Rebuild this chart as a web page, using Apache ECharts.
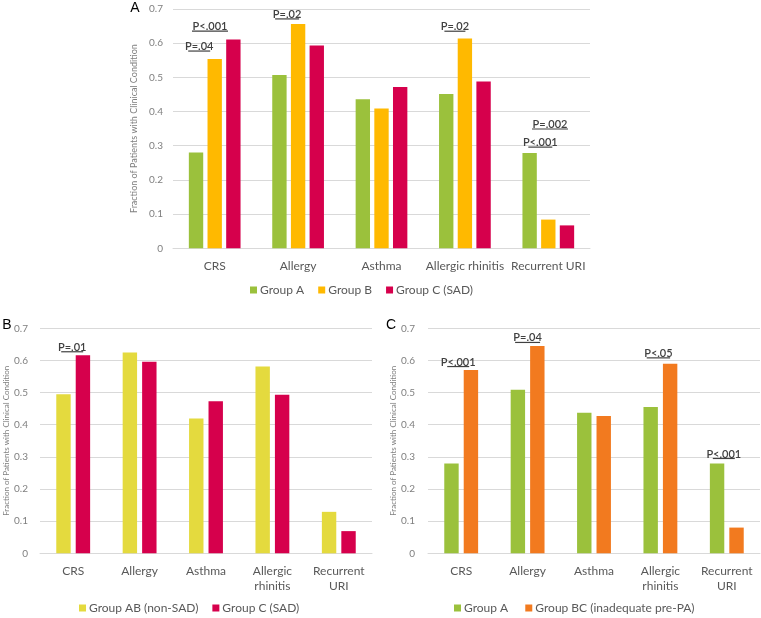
<!DOCTYPE html>
<html>
<head>
<meta charset="utf-8">
<script src="https://cdn.jsdelivr.net/npm/echarts@6/dist/echarts.min.js"></script>
<style>
html,body{margin:0;padding:0;background:#fff;}
#c{width:761px;height:618px;}
</style>
</head>
<body>
<div id="c"></div>
<script>
// ---- data ----
const categories = ['CRS', 'Allergy', 'Asthma', 'Allergic rhinitis', 'Recurrent URI'];
const categoriesWrapped = ['CRS', 'Allergy', 'Asthma', 'Allergic\nrhinitis', 'Recurrent\nURI'];
const yTicks = [0, 0.1, 0.2, 0.3, 0.4, 0.5, 0.6, 0.7];

// Panel A
const panelA_groupA = [0.280, 0.507, 0.436, 0.451, 0.279];
const panelA_groupB = [0.554, 0.656, 0.409, 0.614, 0.084];
const panelA_groupC = [0.611, 0.593, 0.472, 0.488, 0.067];
// Panel B
const panelB_groupAB = [0.495, 0.625, 0.419, 0.581, 0.129];
const panelB_groupC = [0.616, 0.596, 0.473, 0.493, 0.069];
// Panel C
const panelC_groupA = [0.279, 0.509, 0.437, 0.455, 0.279];
const panelC_groupBC = [0.570, 0.645, 0.427, 0.590, 0.080];

// significance annotations: [category index, bracket value, text]
const annotA = [[0, 0.577, 'P=.04'], [0, 0.635, 'P<.001'], [1, 0.671, 'P=.02'], [3, 0.635, 'P=.02'], [4, 0.349, 'P=.002'], [4, 0.296, 'P<.001']];
const annotB = [[0, 0.627, 'P=.01']];
const annotC = [[0, 0.581, 'P<.001'], [1, 0.656, 'P=.04'], [3, 0.608, 'P<.05'], [4, 0.295, 'P<.001']];
// layout of annotations (pixel offset from category centre, half line width)
const annotA_layout = [[-15.5, 11], [-4.7, 18], [-11, 12], [-10, 10.5], [1.7, 18], [-8, 12]];
const annotB_layout = [[-1, 11]];
const annotC_layout = [[-3, 11], [0, 12.5], [-2, 11.7], [-3, 11]];

const yTitle = 'Fraction of Patients with Clinical Condition';

// ---- styles ----
const FONT = 'Lato, "Open Sans", sans-serif';
const GREEN = '#9BC13C', YELLOW = '#FFB900', RED = '#D6004C', YGREEN = '#E4DA3E', ORANGE = '#F27A1F';

function xAxis(idx, data) {
  return {
    type: 'category', gridIndex: idx, data: data,
    axisLine: {show: true, lineStyle: {color: '#d9d9d9', width: 1}},
    axisTick: {show: false},
    axisLabel: {color: '#595959', fontSize: 12, fontFamily: FONT, margin: 10, interval: 0, lineHeight: 15}
  };
}
function yAxis(idx, nameGap, nameSize, labelMargin) {
  return {
    type: 'value', gridIndex: idx, min: yTicks[0], max: yTicks[yTicks.length - 1], interval: 0.1,
    splitLine: {lineStyle: {color: '#d9d9d9', width: 1}},
    axisLine: {show: false}, axisTick: {show: false},
    axisLabel: {color: '#7f7f7f', fontSize: 10, fontFamily: FONT, margin: labelMargin,
      formatter: v => (Math.abs(v) < 1e-9 ? '0' : v.toFixed(1))},
    name: yTitle, nameLocation: 'middle', nameRotate: 90, nameGap: nameGap,
    nameTextStyle: {color: '#7f7f7f', fontSize: nameSize, fontFamily: FONT}
  };
}
function bar(name, data, idx, color, gap, catGap) {
  return {
    type: 'bar', name: name, data: data, xAxisIndex: idx, yAxisIndex: idx,
    itemStyle: {color: color}, barGap: gap, barCategoryGap: catGap,
    emphasis: {disabled: true}, animation: false
  };
}
function annot(list, layout, idx) {
  return {
    type: 'custom', xAxisIndex: idx, yAxisIndex: idx, clip: false, animation: false,
    silent: true,
    data: list.map(a => [a[0], a[1]]),
    encode: {x: 0, y: 1},
    renderItem: function (params, api) {
      const p = api.coord([api.value(0), api.value(1)]);
      const lay = layout[params.dataIndex];
      const cx = p[0] + lay[0];
      return {
        type: 'group',
        children: [
          {type: 'line', shape: {x1: cx - lay[1], y1: p[1], x2: cx + lay[1], y2: p[1]},
            style: {stroke: '#404040', lineWidth: 1.2}},
          {type: 'text', x: cx, y: p[1] + 1,
            style: {text: list[params.dataIndex][2], fill: '#404040', font: '600 11px ' + FONT,
              align: 'center', verticalAlign: 'bottom'}}
        ]
      };
    }
  };
}
function legend(names, left, top) {
  return {
    data: names, left: left, top: top, padding: 0, itemWidth: 7, itemHeight: 7, itemGap: 14,
    icon: 'rect', selectedMode: false,
    textStyle: {color: '#595959', fontSize: 12, fontFamily: FONT, padding: [0, 0, 0, -2]}
  };
}

const chart = echarts.init(document.getElementById('c'), null, {renderer: 'canvas'});
chart.setOption({
  animation: false,
  backgroundColor: '#fff',
  grid: [
    {left: 173, top: 9, width: 417, height: 239.3},
    {left: 40, top: 328.3, width: 332, height: 225},
    {left: 428, top: 328.3, width: 332, height: 225}
  ],
  xAxis: [xAxis(0, categories), xAxis(1, categoriesWrapped), xAxis(2, categoriesWrapped)],
  yAxis: [yAxis(0, 23.5, 9, 10), yAxis(1, 30, 8, 12), yAxis(2, 29, 8, 13)],
  legend: [
    legend(['Group A', 'Group B', 'Group C (SAD)'], 250, 284),
    legend(['Group AB (non-SAD)', 'Group C (SAD) '], 79, 602),
    legend(['Group A ', 'Group BC (inadequate pre-PA)'], 454, 602)
  ],
  series: [
    bar('Group A', panelA_groupA, 0, GREEN, '30%', '38%'),
    bar('Group B', panelA_groupB, 0, YELLOW, '30%', '38%'),
    bar('Group C (SAD)', panelA_groupC, 0, RED, '30%', '38%'),
    bar('Group AB (non-SAD)', panelB_groupAB, 1, YGREEN, '35%', '49%'),
    bar('Group C (SAD) ', panelB_groupC, 1, RED, '35%', '49%'),
    bar('Group A ', panelC_groupA, 2, GREEN, '35%', '49%'),
    bar('Group BC (inadequate pre-PA)', panelC_groupBC, 2, ORANGE, '35%', '49%'),
    annot(annotA, annotA_layout, 0),
    annot(annotB, annotB_layout, 1),
    annot(annotC, annotC_layout, 2)
  ],
  graphic: [
    {type: 'text', x: 135, y: 8, style: {text: 'A', font: '14px "Liberation Sans", Arial, sans-serif', fill: '#000', align: 'center', verticalAlign: 'middle'}},
    {type: 'text', x: 7, y: 325, style: {text: 'B', font: '14px "Liberation Sans", Arial, sans-serif', fill: '#000', align: 'center', verticalAlign: 'middle'}},
    {type: 'text', x: 391, y: 325, style: {text: 'C', font: '14px "Liberation Sans", Arial, sans-serif', fill: '#000', align: 'center', verticalAlign: 'middle'}}
  ]
});
</script>
</body>
</html>
